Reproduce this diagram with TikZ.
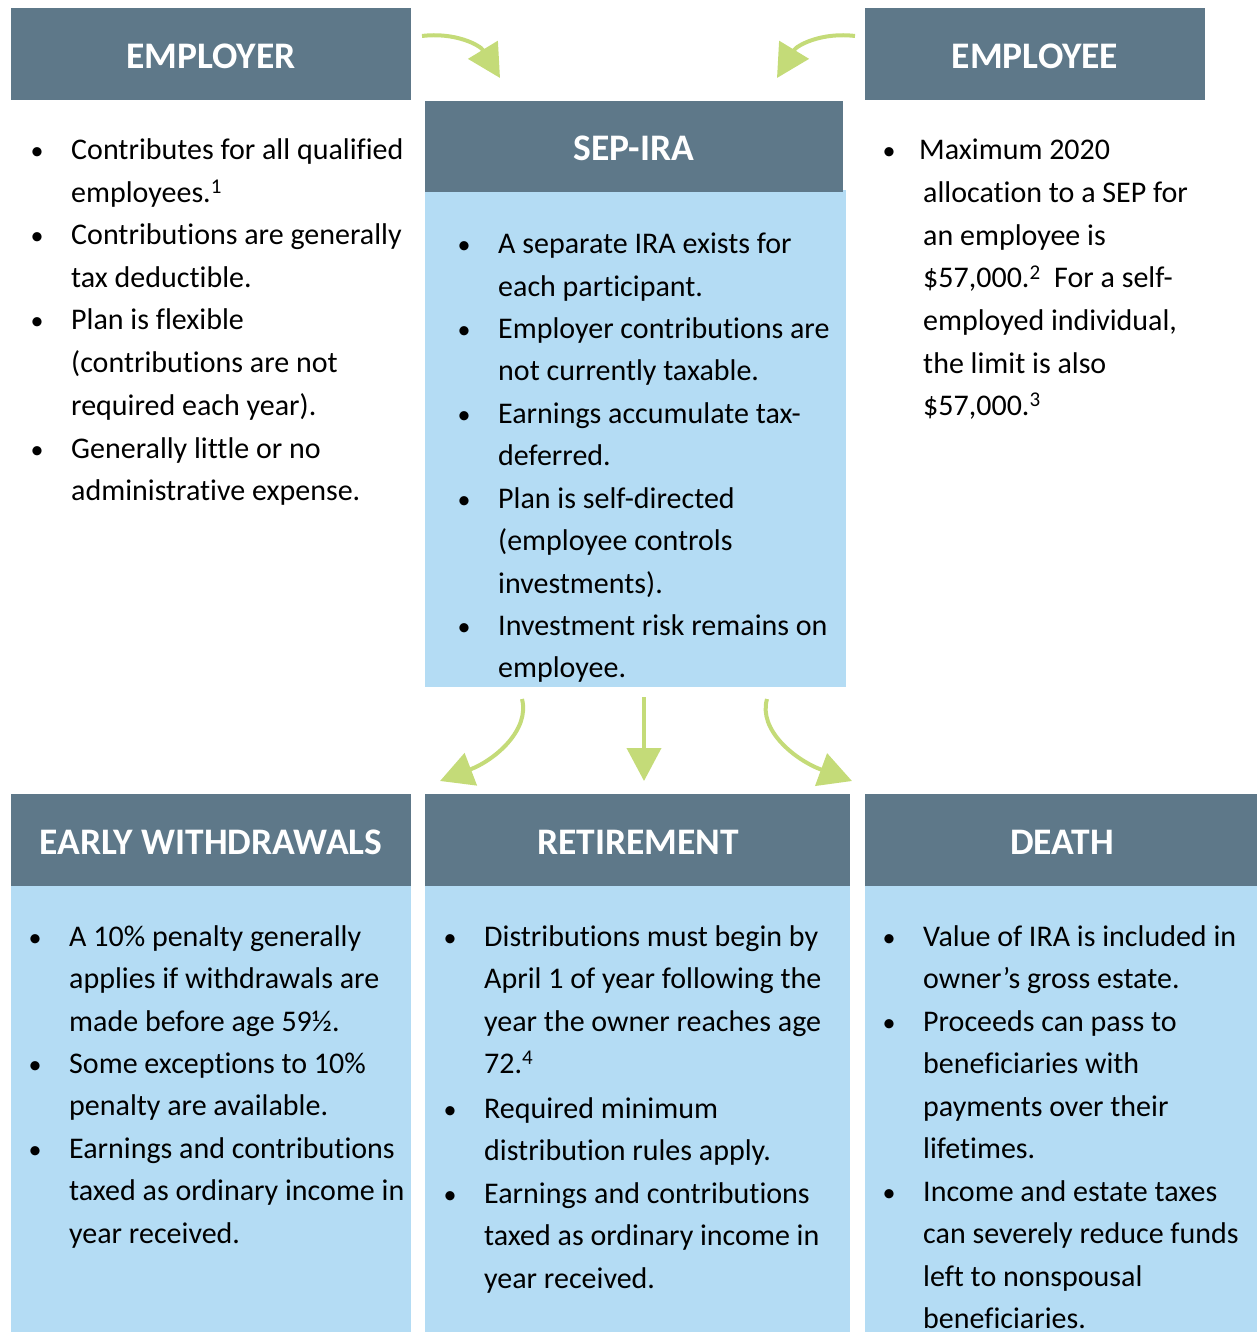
\documentclass[tikz,border=0pt]{standalone}
\usepackage{fontspec}
\setmainfont[Ligatures=NoCommon]{Carlito}
\usetikzlibrary{arrows.meta}
\definecolor{hdr}{RGB}{94,120,137}
\definecolor{lblue}{RGB}{180,220,244}
\definecolor{grn}{RGB}{196,219,120}
\newcommand{\blk}[1]{\parbox[t]{380bp}{\raggedright #1}}
\tikzset{
  hdrbox/.style={fill=hdr, draw=none, inner sep=0pt},
  bodybox/.style={fill=lblue, draw=none, inner sep=0pt},
  hdrtxt/.style={text=white, font=\fontsize{37.5bp}{40bp}\selectfont\bfseries, inner sep=0pt},
  txt/.style={inner sep=0pt, anchor=base west, font=\fontsize{30bp}{42.5bp}\selectfont},
  bul/.style={inner sep=0pt, anchor=base, font=\fontsize{26bp}{30bp}\selectfont},
  garrow/.style={draw=grn, line width=4bp, -{Triangle[length=33bp,width=34bp]}},
}
\begin{document}
\begin{tikzpicture}[x=1bp,y=-1bp]
\useasboundingbox (0,0) rectangle (1257,1332);
% boxes
\path[hdrbox] (11,8) rectangle (411,100);
\node[hdrtxt] (emprT) at (211,56) {EMPLOYER};
\path[hdrbox] (865,8) rectangle (1205,100);
\node[hdrtxt] (empeT) at (1035,56) {EMPLOYEE};
\path[bodybox] (425,190) rectangle (846,687);
\path[hdrbox] (425,101) rectangle (843,192);
\node[hdrtxt] (sepT) at (634,148) {SEP-IRA};
% bottom
\path[bodybox] (11,886) rectangle (411,1332);
\path[bodybox] (425,886) rectangle (850,1332);
\path[bodybox] (865,886) rectangle (1257,1332);
\path[hdrbox] (11,794) rectangle (411,886);
\path[hdrbox] (425,794) rectangle (850,886);
\path[hdrbox] (865,794) rectangle (1257,886);
\node[hdrtxt] (ewT) at (211,842) {EARLY WITHDRAWALS};
\node[hdrtxt] (retT) at (638,842) {RETIREMENT};
\node[hdrtxt] (dthT) at (1062,842) {DEATH};

\begin{scope}[yshift=-2bp]
% employer bullets
\node[bul] (b11) at (37,158) {\textbullet};
\node[txt] (e1) at (71,158) {\blk{Contributes for all qualified\\employees.\textsuperscript{1}}};
\node[bul] (b12) at (37,243) {\textbullet};
\node[txt] (e2) at (71,243) {\blk{Contributions are generally\\tax deductible.}};
\node[bul] (b13) at (37,328) {\textbullet};
\node[txt] (e3) at (71,328) {\blk{Plan is flexible\\(contributions are not\\required each year).}};
\node[bul] (b14) at (37,456) {\textbullet};
\node[txt] (e4) at (71,456) {\blk{Generally little or no\\administrative expense.}};

% employee
\node[bul] (b21) at (889,158) {\textbullet};
\node[txt] (p1) at (919,158) {Maximum 2020};
\node[txt] (p2) at (923,201) {\blk{allocation to a SEP for\\an employee is\\\$57,000.\textsuperscript{2}\ \ For a self-\\employed individual,\\the limit is also\\\$57,000.\textsuperscript{3}}};

% SEP-IRA
\node[bul] (b31) at (464,252) {\textbullet};
\node[txt] (s1) at (498,252) {\blk{A separate IRA exists for\\each participant.}};
\node[bul] (b32) at (464,336) {\textbullet};
\node[txt] (s2) at (498,336) {\blk{Employer contributions are\\not currently taxable.}};
\node[bul] (b33) at (464,421) {\textbullet};
\node[txt] (s3) at (498,421) {\blk{Earnings accumulate tax-\\deferred.}};
\node[bul] (b34) at (464,506) {\textbullet};
\node[txt] (s4) at (498,506) {\blk{Plan is self-directed\\(employee controls\\investments).}};
\node[bul] (b35) at (464,633) {\textbullet};
\node[txt] (s5) at (498,633) {\blk{Investment risk remains on\\employee.}};

% early withdrawals
\node[bul] (b41) at (35,944) {\textbullet};
\node[txt] (w1) at (69,944) {\blk{A 10\% penalty generally\\applies if withdrawals are\\made before age 59½.}};
\node[bul] (b42) at (35,1071) {\textbullet};
\node[txt] (w2) at (69,1071) {\blk{Some exceptions to 10\%\\penalty are available.}};
\node[bul] (b43) at (35,1156) {\textbullet};
\node[txt] (w3) at (69,1156) {\blk{Earnings and contributions\\taxed as ordinary income in\\year received.}};

% retirement
\node[bul] (b51) at (450,944) {\textbullet};
\node[txt] (r1) at (484,944) {\blk{Distributions must begin by\\April 1 of year following the\\year the owner reaches age\\72.\textsuperscript{4}}};
\node[bul] (b52) at (450,1116) {\textbullet};
\node[txt] (r2) at (484,1116) {\blk{Required minimum\\distribution rules apply.}};
\node[bul] (b53) at (450,1201) {\textbullet};
\node[txt] (r3) at (484,1201) {\blk{Earnings and contributions\\taxed as ordinary income in\\year received.}};

% death
\node[bul] (b61) at (889,944) {\textbullet};
\node[txt] (d1) at (923,944) {\blk{Value of IRA is included in\\owner’s gross estate.}};
\node[bul] (b62) at (889,1029) {\textbullet};
\node[txt] (d2) at (923,1029) {\blk{Proceeds can pass to\\beneficiaries with\\payments over their\\lifetimes.}};
\node[bul] (b63) at (889,1199) {\textbullet};
\node[txt] (d3) at (923,1199) {\blk{Income and estate taxes\\can severely reduce funds\\left to nonspousal\\beneficiaries.}};
\end{scope}

% arrows
\coordinate (a1s) at (422,36);
\coordinate (a1e) at (500,78);
\coordinate (a2s) at (855,36);
\coordinate (a2e) at (777,78);
\coordinate (a3s) at (522,699);
\coordinate (a3e) at (440,781);
\coordinate (a4s) at (644,697);
\coordinate (a4e) at (644,781);
\coordinate (a5s) at (767,699);
\coordinate (a5e) at (852,781);
\draw[garrow] (a1s) .. controls (455,32) and (480,45) .. (a1e);
\draw[garrow] (a2s) .. controls (822,32) and (797,45) .. (a2e);
\draw[garrow] (a3s) .. controls (530,730) and (495,760) .. (a3e);
\draw[garrow] (a4s) -- (a4e);
\draw[garrow] (a5s) .. controls (758,730) and (795,760) .. (a5e);
\end{tikzpicture}
\end{document}
